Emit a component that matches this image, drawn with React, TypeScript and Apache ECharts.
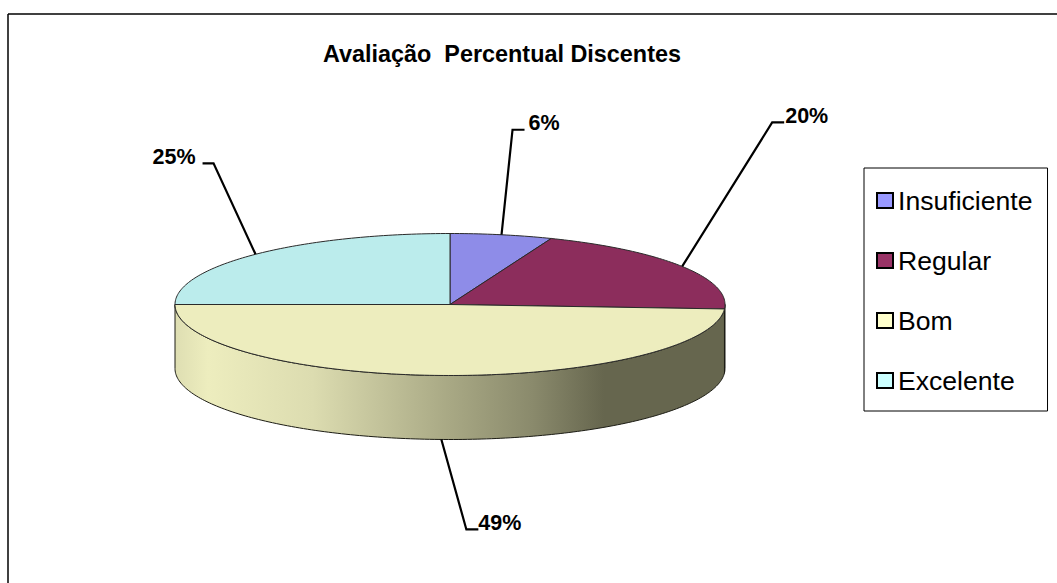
import React, { useEffect, useRef } from "react";
import * as echarts from "echarts";

const categories = ["Insuficiente", "Regular", "Bom", "Excelente"];
const percents = [6, 20, 49, 25];
const titleText = "Avaliação  Percentual Discentes";
const topColors = ["#8E8CE8", "#8C2D5C", "#EDEDBE", "#BBECEC"];
const legendColors = ["#9999FF", "#993366", "#FFFFCC", "#CCFFFF"];

const CX = 450, CY = 304.5, RX = 275, RY = 71, DEPTH = 64;
// leader elbow and text offsets, relative to the slice anchor
const elbows = [[11, -105], [90, -144], [25, 90], [-42, -91]];
const tails = [[23, -105], [102, -144], [37, 90], [-53, -91]];
const labelOffsets = [[27, -112], [103, -150], [37, 84], [-103, -97]];

const total = percents.reduce((a, b) => a + b, 0);
const deg = (v: number) => (v / total) * 360;
const pt = (a: number, dy = 0): number[] => {
  const r = (a * Math.PI) / 180;
  return [CX + RX * Math.sin(r), CY - RY * Math.cos(r) + dy];
};
const arc = (a: number, b: number, dy = 0) => {
  const out: number[][] = [];
  const n = Math.max(2, Math.ceil(Math.abs(b - a)));
  for (let i = 0; i <= n; i++) out.push(pt(a + ((b - a) * i) / n, dy));
  return out;
};

const rimGradient = () =>
  new echarts.graphic.LinearGradient(CX - RX, 0, CX + RX, 0, [
    { offset: 0, color: "#DEDEB2" },
    { offset: 0.06, color: "#EDEDBE" },
    { offset: 0.25, color: "#DCDCB0" },
    { offset: 0.5, color: "#A8A884" },
    { offset: 0.65, color: "#8A8A6C" },
    { offset: 0.78, color: "#66664E" },
    { offset: 1, color: "#66664E" },
  ], true);

function renderSlice(params: any, api: any) {
  const i = params.seriesIndex;
  const start = deg(api.value(1));
  const end = start + deg(api.value(0));
  const children: any[] = [];
  const a = Math.max(start, 90), b = Math.min(end, 270);
  if (b > a) {
    children.push({
      type: "polygon",
      shape: { points: [...arc(a, b), ...arc(b, a, DEPTH)] },
      style: { fill: rimGradient(), stroke: "#1c1c14", lineWidth: 1 },
    });
  }
  children.push({
    type: "polygon",
    shape: { points: [[CX, CY], ...arc(start, end)] },
    style: { fill: topColors[i], stroke: "#2a2a2a", lineWidth: 1, lineJoin: "round" },
  });
  const mid = (start + end) / 2;
  const anchor = pt(mid, mid > 90 && mid < 270 ? DEPTH : 0);
  children.push({
    type: "polyline",
    shape: {
      points: [
        anchor,
        [anchor[0] + elbows[i][0], anchor[1] + elbows[i][1]],
        [anchor[0] + tails[i][0], anchor[1] + tails[i][1]],
      ],
    },
    style: { fill: "none", stroke: "#000", lineWidth: 2.2 },
  });
  children.push({
    type: "text",
    style: {
      x: anchor[0] + labelOffsets[i][0],
      y: anchor[1] + labelOffsets[i][1],
      text: `${api.value(0)}%`,
      font: 'bold 21.5px "Liberation Sans"',
      fill: "#000",
      verticalAlign: "middle",
    },
  });
  return { type: "group", children };
}

export default function App() {
  const ref = useRef<HTMLDivElement>(null);
  useEffect(() => {
    const chart = echarts.init(ref.current!, undefined, { renderer: "svg" });
    let cum = 0;
    const series = categories.map((name, i) => {
      const d = [percents[i], cum];
      cum += percents[i];
      return {
        type: "custom",
        name,
        coordinateSystem: "none",
        renderItem: renderSlice,
        data: [d],
        silent: true,
        itemStyle: { color: legendColors[i] },
      };
    });
    chart.setOption({
      animation: false,
      backgroundColor: "#fff",
      title: {
        text: titleText,
        left: 323,
        top: 42,
        padding: 0,
        textStyle: { fontFamily: "Liberation Sans", fontWeight: "bold", fontSize: 23.4, color: "#000" },
      },
      legend: {
        orient: "vertical",
        left: 864,
        top: 168,
        padding: [19, 15, 17, 12],
        itemGap: 33,
        itemWidth: 16,
        itemHeight: 15,
        borderColor: "#000",
        borderWidth: 1,
        backgroundColor: "#fff",
        selectedMode: false,
        textStyle: { fontFamily: "Liberation Sans", fontSize: 26.6, color: "#000" },
        data: categories.map((name, i) => ({
          name,
          icon: "rect",
          itemStyle: { color: legendColors[i], borderColor: "#000", borderWidth: 2 },
        })),
      },
      graphic: [
        { type: "line", shape: { x1: 8, y1: 14, x2: 8, y2: 583 }, style: { stroke: "#000", lineWidth: 1.5 } },
        { type: "line", shape: { x1: 8, y1: 14, x2: 1057, y2: 14 }, style: { stroke: "#000", lineWidth: 1.5 } },
      ],
      series,
    });
    return () => chart.dispose();
  }, []);
  return <div ref={ref} style={{ position: "fixed", left: 0, top: 0, width: 1057, height: 583 }} />;
}
